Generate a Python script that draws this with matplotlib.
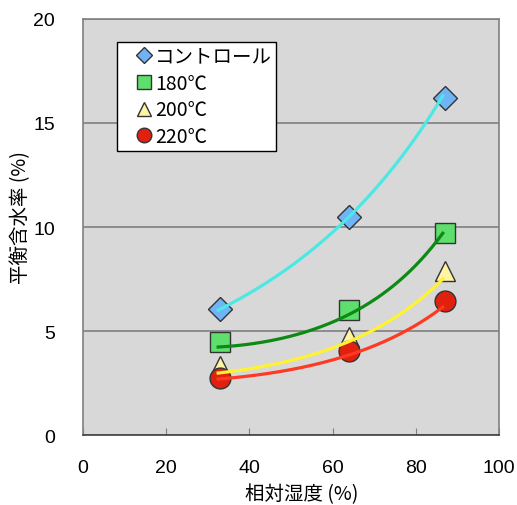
import numpy as np
import matplotlib
matplotlib.use("Agg")
import matplotlib.pyplot as plt

plt.rcParams['font.family'] = ['Liberation Sans', 'Noto Sans CJK JP', 'DejaVu Sans']
jp = ['Noto Sans CJK JP', 'DejaVu Sans']

# 相対湿度 (%)
rh = [33, 64, 87]

# 平衡含水率 (%) - måledata
kontroll = [6.05, 10.5, 16.2]
t180 = [4.45, 6.0, 9.7]
t200 = [3.3, 4.7, 7.9]
t220 = [2.75, 4.05, 6.45]

# trendlinjer, avlest fra figuren ved de samme RH-verdiene
trend_rh = [32.5, 64, 86.5]
trend_kontroll = [6.0, 10.5, 16.3]
trend_180 = [4.23, 5.8, 9.7]
trend_200 = [2.98, 4.5, 7.5]
trend_220 = [2.69, 3.85, 6.15]

serier = [
    ("コントロール", kontroll, trend_kontroll, "D", "#70b4f8", "#4ce8e4", 12),
    ("180℃", t180, trend_180, "s", "#5ede6c", "#0c8a14", 15),
    ("200℃", t200, trend_200, "^", "#fff4a4", "#fff230", 15),
    ("220℃", t220, trend_220, "o", "#e2200e", "#ff3a22", 15),
]

fig = plt.figure(figsize=(5.17, 5.06), dpi=100)
ax = fig.add_axes([0.1605, 0.1383, 0.8045, 0.8222])
ax.set_facecolor("#d8d8d8")

xs = np.linspace(trend_rh[0], trend_rh[-1], 200)
for navn, y, ty, mk, fc, lc, ms in serier:
    ax.plot(rh, y, linestyle="none", marker=mk, markersize=ms,
            markerfacecolor=fc, markeredgecolor="#333333", markeredgewidth=1.0,
            label=navn, zorder=3)
    # glatt kurve (kvadratisk i log-rom)
    k = np.polyfit(trend_rh, np.log(ty), 2)
    ax.plot(xs, np.exp(np.polyval(k, xs)), color=lc, linewidth=2.3, zorder=4)

ax.set_xlim(0, 100)
ax.set_ylim(0, 20)
ax.set_xticks(np.arange(0, 101, 20))
ax.set_yticks(np.arange(0, 21, 5))
ax.yaxis.grid(True, color="#808080", linewidth=1.2)
ax.set_axisbelow(True)
ax.tick_params(axis="x", direction="in", length=5, color="#808080", labelsize=14, pad=17)
ax.tick_params(axis="y", length=0, labelsize=14, pad=20)
for s in ax.spines.values():
    s.set_color("#808080")
    s.set_linewidth(1.2)
ax.spines["bottom"].set_color("#404040")

ax.set_xlabel("相対湿度 (%)", fontsize=14, family=jp, va="center")
ax.xaxis.set_label_coords(0.527, -0.142)
ax.set_ylabel("平衡含水率 (%)", fontsize=14, family=jp)
ax.yaxis.set_label_coords(-0.125, 0.526)

leg = ax.legend(loc="upper left", bbox_to_anchor=(0.0817, 0.945),
                prop={"family": jp, "size": 14},
                markerscale=0.7, handlelength=2.4, handletextpad=-0.65,
                labelspacing=0.3, borderpad=0.2, fancybox=False, framealpha=1,
                edgecolor="black", borderaxespad=0)
leg.get_frame().set_linewidth(1.0)

fig.savefig("out.png", dpi=100)
